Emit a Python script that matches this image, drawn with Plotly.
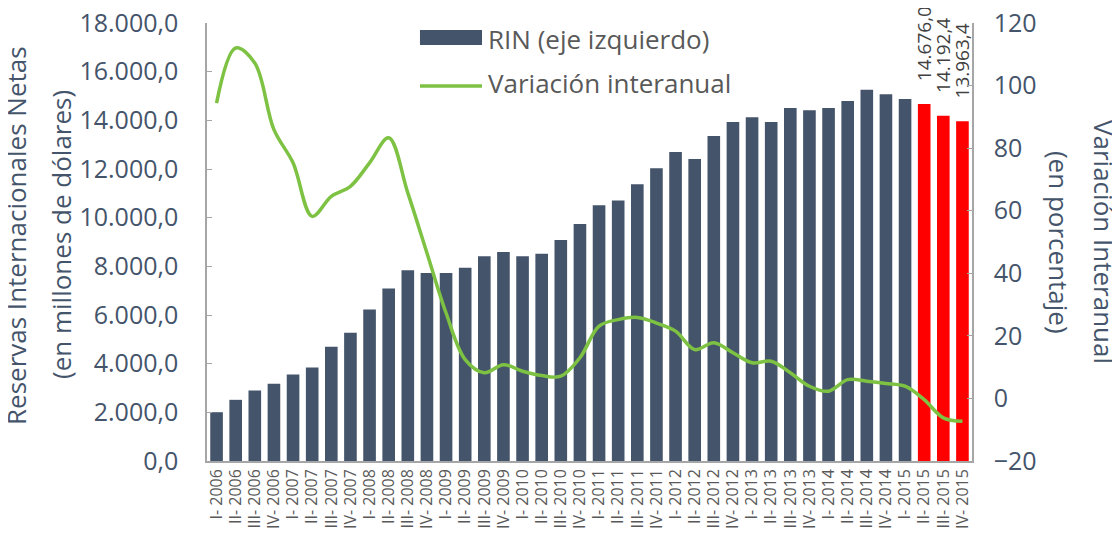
import plotly.graph_objects as go

# ─────────────────────────────────────────────
# Data
# ─────────────────────────────────────────────

quarters = ["I", "II", "III", "IV"]
years = list(range(2006, 2016))
periods = [f"{q}- {y}" for y in years for q in quarters]

# RIN, millones de dólares
rin = [
    2005, 2514, 2896, 3171, 3553, 3841, 4691, 5266, 6224, 7086,
    7838, 7731, 7731, 7937, 8413, 8594, 8413, 8512, 9087, 9744,
    10508, 10701, 11371, 12028, 12702, 12414, 13359, 13934, 14123, 13934,
    14509, 14411, 14509, 14797, 15261, 15068, 14879, 14676.0, 14192.4, 13963.4,
]

# Variación interanual, %
variacion = [
    94.4, 112.0, 107.2, 85.9, 75.3, 58.2, 64.6, 67.8, 75.3, 83.3,
    65.7, 46.5, 27.3, 12.4, 8.2, 10.8, 8.7, 7.3, 7.1, 13.0,
    23.1, 25.2, 25.9, 24.1, 21.5, 15.6, 17.8, 14.6, 11.4, 11.9,
    8.2, 3.9, 2.3, 6.0, 5.5, 4.8, 3.9, -0.4, -6.2, -7.3,
]

n_highlight = 3  # last quarters shown in red with labels

# ─────────────────────────────────────────────
# Theme
# ─────────────────────────────────────────────

FONT = "Open Sans, sans-serif"
BAR_COLOR = "#44546a"
RED = "#ff0000"
LINE_COLOR = "#7dc242"
AXIS_COLOR = "#a6a6a6"
TITLE_COLOR = "#44546a"
TEXT_COLOR = "#595959"


def es_num(v):
    """Spanish number format: 14.676,0"""
    return f"{v:,.1f}".replace(",", "X").replace(".", ",").replace("X", ".")


bar_colors = [BAR_COLOR] * (len(rin) - n_highlight) + [RED] * n_highlight
bar_text = [""] * (len(rin) - n_highlight) + [
    "\u00a0\u00a0\u00a0\u00a0" + es_num(v) for v in rin[-n_highlight:]
]

fig = go.Figure()

fig.add_trace(go.Bar(
    x=periods,
    y=rin,
    name="RIN (eje izquierdo)",
    marker=dict(color=bar_colors, line=dict(width=0)),
    text=bar_text,
    textposition="outside",
    textangle=-90,
    constraintext="none",
    cliponaxis=False,
    textfont=dict(family=FONT, size=19, color="#404040"),
    showlegend=False,
))

fig.add_trace(go.Scatter(
    x=periods,
    y=variacion,
    name="Variación interanual",
    mode="lines",
    line=dict(color=LINE_COLOR, width=3.5, shape="spline", smoothing=1.0),
    yaxis="y2",
    showlegend=False,
))

# ─────────────────────────────────────────────
# Axes
# (page body has an 8px margin, so the figure is 8px smaller)
# ─────────────────────────────────────────────

fig.update_layout(
    width=1112,
    height=534,
    margin=dict(l=199, r=148, t=15, b=81, autoexpand=False),
    paper_bgcolor="white",
    plot_bgcolor="white",
    separators=",.",
    bargap=0.34,
    font=dict(family=FONT, color=TEXT_COLOR),
    xaxis=dict(
        type="category", automargin=False,
        showline=True, linecolor=AXIS_COLOR, linewidth=1.5,
        showgrid=False, ticks="",
        tickangle=-90,
        tickfont=dict(family=FONT, size=16, color=TEXT_COLOR),
    ),
    yaxis=dict(
        range=[0, 18000], dtick=2000, tickformat=",.1f", automargin=False,
        showline=True, linecolor=AXIS_COLOR, linewidth=1.5,
        ticks="inside", ticklen=5, tickcolor=AXIS_COLOR,
        showgrid=False, zeroline=False,
        ticklabelstandoff=22, ticklabeloverflow="allow",
        tickfont=dict(family=FONT, size=25, color=TITLE_COLOR),
    ),
    yaxis2=dict(
        overlaying="y", side="right", automargin=False,
        range=[-20, 120], dtick=20,
        showline=True, linecolor=AXIS_COLOR, linewidth=1.5,
        ticks="inside", ticklen=5, tickcolor=AXIS_COLOR,
        showgrid=False, zeroline=False,
        ticklabelstandoff=15, ticklabeloverflow="allow",
        tickfont=dict(family=FONT, size=25, color=TITLE_COLOR),
    ),
)

# Axis titles
title_font = dict(family=FONT, size=26, color=TITLE_COLOR)
for text, x in [
    ("Reservas Internacionales Netas", -0.2497),
    ("(en millones de dólares)", -0.1908),
]:
    fig.add_annotation(text=text, x=x, y=0.516, xref="paper", yref="paper",
                       xanchor="center", yanchor="middle", textangle=-90,
                       showarrow=False, font=title_font)
for text, x in [("Variación Interanual", 1.1725), ("(en porcentaje)", 1.1138)]:
    fig.add_annotation(text=text, x=x, y=0.50, xref="paper", yref="paper",
                       xanchor="center", yanchor="middle", textangle=90,
                       showarrow=False, font=title_font)

# Legend (drawn to mimic the wide Excel swatches)
fig.add_shape(type="rect", xref="paper", yref="paper",
              x0=0.2784, x1=0.3595, y0=0.9498, y1=0.984,
              fillcolor=BAR_COLOR, line=dict(width=0))
fig.add_shape(type="line", xref="paper", yref="paper",
              x0=0.2784, x1=0.3595, y0=0.856, y1=0.856,
              line=dict(color=LINE_COLOR, width=3.5))
legend_font = dict(family=FONT, size=26, color=TEXT_COLOR)
fig.add_annotation(text="RIN (eje izquierdo)", x=0.3647, y=0.9635,
                   xref="paper", yref="paper", xanchor="left", yanchor="middle",
                   showarrow=False, font=legend_font)
fig.add_annotation(text="Variación interanual", x=0.3647, y=0.863,
                   xref="paper", yref="paper", xanchor="left", yanchor="middle",
                   showarrow=False, font=legend_font)

fig.write_html("out.html")
